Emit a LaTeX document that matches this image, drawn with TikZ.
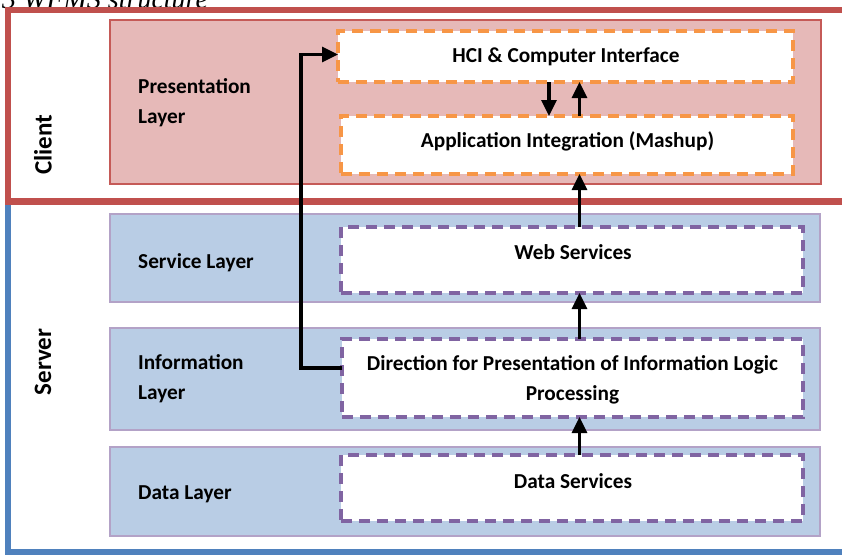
\documentclass[tikz,border=0pt]{standalone}
\usepackage{fontspec}
\setmainfont{Carlito}
\newfontfamily\capfont{Liberation Serif}
\usetikzlibrary{arrows.meta}

\definecolor{clientred}{HTML}{C0504D}
\definecolor{presfill}{HTML}{E6B9B8}
\definecolor{presedge}{HTML}{C55A57}
\definecolor{serverblue}{HTML}{4F81BD}
\definecolor{layerfill}{HTML}{B9CDE5}
\definecolor{layeredge}{HTML}{B3A2C7}
\definecolor{dashorange}{HTML}{F79646}
\definecolor{dashpurple}{HTML}{8064A2}

\tikzset{
  frame/.style={rectangle, anchor=north west, inner sep=0pt, outer sep=0pt},
  layerbox/.style={frame, draw=layeredge, fill=layerfill, line width=2.8pt},
  presbox/.style={frame, draw=presedge, fill=presfill, line width=2.4pt},
  compbox/.style={frame, fill=white, line width=3.5pt, dash pattern=on 11pt off 7pt},
  clientcomp/.style={compbox, draw=dashorange},
  servercomp/.style={compbox, draw=dashpurple},
  bigtext/.style={font=\fontsize{21.3}{30}\selectfont\bfseries, inner sep=0pt},
  sidetext/.style={font=\fontsize{25}{30}\selectfont\bfseries, inner sep=0pt},
  layerlabel/.style={bigtext, align=left, anchor=base west},
  complabel/.style={bigtext, align=center, anchor=base},
  arr/.style={line width=3.1pt, -{Triangle[length=16pt,width=15pt]}},
}

\begin{document}
\begin{tikzpicture}[x=1pt, y=-1pt]
  \useasboundingbox (0,0) rectangle (842,555);
  \clip (0,0) rectangle (842,555);

  % caption line running off the top
  \node[anchor=base west, inner sep=0pt, font=\capfont\itshape\fontsize{28}{30}\selectfont] (caption) at (2,8) {3 WFMS structure};

  % server and client frames
  \node[frame, draw=serverblue, line width=5.5pt, minimum width=860pt, minimum height=350.5pt] (server) at (8,201.5) {};
  \node[frame, draw=clientred, line width=6.5pt, minimum width=860pt, minimum height=191.5pt] (client) at (8,10) {};

  % layers
  \node[presbox, minimum width=711pt, minimum height=164pt] (pres) at (110,20) {};
  \node[layerbox, minimum width=710pt, minimum height=88pt] (svc) at (110,214) {};
  \node[layerbox, minimum width=710pt, minimum height=102pt] (info) at (110,328) {};
  \node[layerbox, minimum width=710pt, minimum height=89pt] (data) at (110,447) {};

  % components
  \node[clientcomp, minimum width=455pt, minimum height=51pt] (hci) at (338,31) {};
  \node[clientcomp, minimum width=452pt, minimum height=58pt] (app) at (341,116) {};
  \node[servercomp, minimum width=462pt, minimum height=66pt] (web) at (341,227) {};
  \node[servercomp, minimum width=461pt, minimum height=78pt] (dir) at (342,339) {};
  \node[servercomp, minimum width=462pt, minimum height=66pt] (dsv) at (341,455) {};

  % side labels
  \node[sidetext, rotate=90] (clientlbl) at (43,145) {Client};
  \node[sidetext, rotate=90] (serverlbl) at (43,362) {Server};

  % layer labels (base anchor sits on the last line)
  \node[layerlabel] (preslbl) at (138,123) {Presentation\\Layer};
  \node[layerlabel] (svclbl) at (138,268) {Service Layer};
  \node[layerlabel] (infolbl) at (138,399) {Information\\Layer};
  \node[layerlabel] (datalbl) at (138,499) {Data Layer};

  % component labels
  \node[complabel] (hcilbl) at (566,62) {HCI \& Computer Interface};
  \node[complabel] (applbl) at (567.5,147) {Application Integration (Mashup)};
  \node[complabel] (weblbl) at (573,259) {Web Services};
  \node[complabel] (dirlbl) at (572.5,400) {Direction for Presentation of Information Logic\\Processing};
  \node[complabel] (dsvlbl) at (573,488) {Data Services};

  % connectors
  \coordinate (colA) at (549,0);
  \coordinate (colB) at (579.5,0);
  \draw[arr] ([yshift=-29pt]dir.north west) -- ++(-41,0) |- ([yshift=-23.5pt]hci.north west);
  \draw[arr] (hci.south -| colA) -- (app.north -| colA);
  \draw[arr] (app.north -| colB) -- (hci.south -| colB);
  \draw[arr] (web.north -| colB) -- (app.south -| colB);
  \draw[arr] (dir.north -| colB) -- (web.south -| colB);
  \draw[arr] (dsv.north -| colB) -- (dir.south -| colB);
\end{tikzpicture}
\end{document}
